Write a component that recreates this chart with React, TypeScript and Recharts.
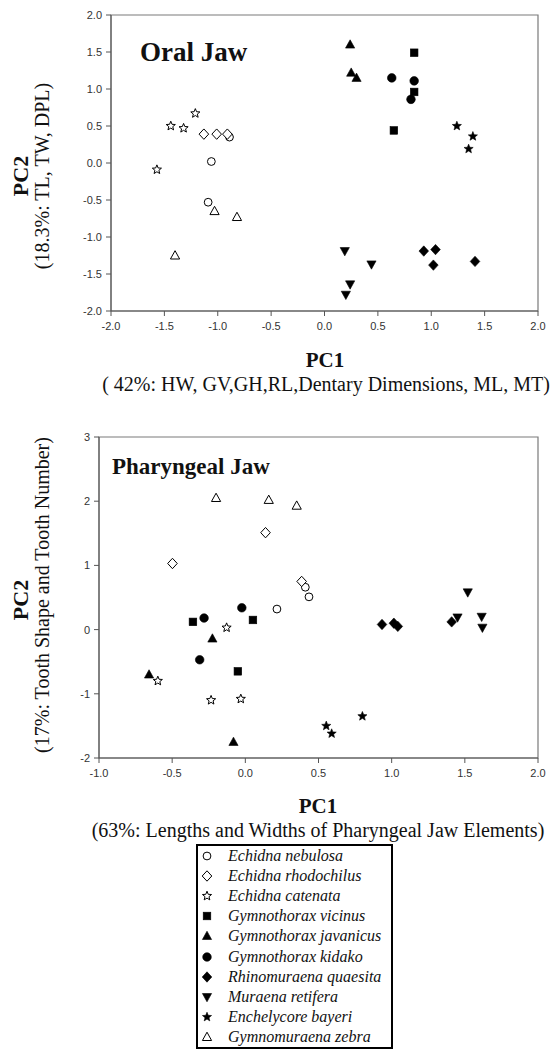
import React from 'react';
import {
  ScatterChart,
  Scatter,
  XAxis,
  YAxis,
  ReferenceArea,
} from 'recharts';

// ---------------------------------------------------------------------------
// Data
// ---------------------------------------------------------------------------

type Pt = { x: number; y: number };
type Kind = 'circle' | 'diamond' | 'star' | 'square' | 'triangle' | 'down';

const species = [
  'Echidna nebulosa',
  'Echidna rhodochilus',
  'Echidna catenata',
  'Gymnothorax vicinus',
  'Gymnothorax javanicus',
  'Gymnothorax kidako',
  'Rhinomuraena quaesita',
  'Muraena retifera',
  'Enchelycore bayeri',
  'Gymnomuraena zebra',
];
const kinds: Kind[] = ['circle', 'diamond', 'star', 'square', 'triangle', 'circle', 'diamond', 'down', 'star', 'triangle'];
const filled = [false, false, false, true, true, true, true, true, true, false];

// Oral jaw
const oralNebulosa: Pt[] = [{ x: -1.06, y: 0.02 }, { x: -1.09, y: -0.53 }, { x: -0.89, y: 0.35 }];
const oralRhodochilus: Pt[] = [{ x: -1.13, y: 0.39 }, { x: -1.01, y: 0.39 }, { x: -0.91, y: 0.39 }];
const oralCatenata: Pt[] = [{ x: -1.21, y: 0.67 }, { x: -1.44, y: 0.5 }, { x: -1.32, y: 0.47 }, { x: -1.57, y: -0.09 }];
const oralVicinus: Pt[] = [{ x: 0.84, y: 1.49 }, { x: 0.84, y: 0.96 }, { x: 0.65, y: 0.44 }];
const oralJavanicus: Pt[] = [{ x: 0.24, y: 1.6 }, { x: 0.25, y: 1.22 }, { x: 0.3, y: 1.15 }];
const oralKidako: Pt[] = [{ x: 0.63, y: 1.15 }, { x: 0.84, y: 1.11 }, { x: 0.81, y: 0.86 }];
const oralQuaesita: Pt[] = [{ x: 0.93, y: -1.19 }, { x: 1.04, y: -1.17 }, { x: 1.02, y: -1.38 }, { x: 1.41, y: -1.33 }];
const oralRetifera: Pt[] = [{ x: 0.19, y: -1.19 }, { x: 0.44, y: -1.37 }, { x: 0.24, y: -1.64 }, { x: 0.2, y: -1.78 }];
const oralBayeri: Pt[] = [{ x: 1.24, y: 0.5 }, { x: 1.39, y: 0.36 }, { x: 1.35, y: 0.19 }];
const oralZebra: Pt[] = [{ x: -1.03, y: -0.65 }, { x: -0.82, y: -0.73 }, { x: -1.4, y: -1.25 }];

// Pharyngeal jaw
const pharNebulosa: Pt[] = [{ x: 0.41, y: 0.66 }, { x: 0.435, y: 0.51 }, { x: 0.216, y: 0.32 }];
const pharRhodochilus: Pt[] = [{ x: 0.385, y: 0.75 }, { x: 0.138, y: 1.51 }, { x: -0.498, y: 1.03 }];
const pharCatenata: Pt[] = [{ x: -0.128, y: 0.03 }, { x: -0.598, y: -0.8 }, { x: -0.234, y: -1.1 }, { x: -0.031, y: -1.08 }];
const pharVicinus: Pt[] = [{ x: -0.358, y: 0.12 }, { x: 0.052, y: 0.15 }, { x: -0.051, y: -0.65 }];
const pharJavanicus: Pt[] = [{ x: -0.225, y: -0.14 }, { x: -0.658, y: -0.7 }, { x: -0.081, y: -1.75 }];
const pharKidako: Pt[] = [{ x: -0.024, y: 0.34 }, { x: -0.282, y: 0.18 }, { x: -0.312, y: -0.47 }];
const pharQuaesita: Pt[] = [{ x: 0.934, y: 0.08 }, { x: 1.015, y: 0.1 }, { x: 1.042, y: 0.05 }, { x: 1.41, y: 0.12 }];
const pharRetifera: Pt[] = [{ x: 1.52, y: 0.58 }, { x: 1.45, y: 0.19 }, { x: 1.615, y: 0.2 }, { x: 1.62, y: 0.03 }];
const pharBayeri: Pt[] = [{ x: 0.553, y: -1.5 }, { x: 0.59, y: -1.62 }, { x: 0.8, y: -1.35 }];
const pharZebra: Pt[] = [{ x: -0.2, y: 2.05 }, { x: 0.16, y: 2.02 }, { x: 0.351, y: 1.93 }];

const oralSeries = [oralNebulosa, oralRhodochilus, oralCatenata, oralVicinus, oralJavanicus, oralKidako, oralQuaesita, oralRetifera, oralBayeri, oralZebra];
const pharSeries = [pharNebulosa, pharRhodochilus, pharCatenata, pharVicinus, pharJavanicus, pharKidako, pharQuaesita, pharRetifera, pharBayeri, pharZebra];

const oralTicks = [-2, -1.5, -1, -0.5, 0, 0.5, 1, 1.5, 2];
const pharXTicks = [-1, -0.5, 0, 0.5, 1, 1.5, 2];
const pharYTicks = [-2, -1, 0, 1, 2, 3];

// ---------------------------------------------------------------------------
// Markers
// ---------------------------------------------------------------------------

function starPath(cx: number, cy: number, ro: number, ri: number) {
  let d = '';
  for (let i = 0; i < 10; i++) {
    const r = i % 2 === 0 ? ro : ri;
    const a = -Math.PI / 2 + (i * Math.PI) / 5;
    d += `${i === 0 ? 'M' : 'L'}${cx + r * Math.cos(a)},${cy + r * Math.sin(a)}`;
  }
  return d + 'Z';
}

function Marker({ cx, cy, kind, solid }: { cx: number; cy: number; kind: Kind; solid: boolean }) {
  const fill = solid ? '#000' : '#fff';
  const common = { fill, stroke: '#000', strokeWidth: solid ? 0.6 : 1 };
  switch (kind) {
    case 'circle':
      return <circle cx={cx} cy={cy} r={solid ? 4.3 : 3.9} {...common} />;
    case 'square':
      return <rect x={cx - 3.8} y={cy - 3.8} width={7.6} height={7.6} {...common} />;
    case 'diamond':
      return <path d={`M${cx},${cy - 5.2}L${cx + 4.8},${cy}L${cx},${cy + 5.2}L${cx - 4.8},${cy}Z`} {...common} />;
    case 'triangle':
      return <path d={`M${cx},${cy - 4.8}L${cx + 4.6},${cy + 3.5}L${cx - 4.6},${cy + 3.5}Z`} {...common} />;
    case 'down':
      return <path d={`M${cx},${cy + 4.8}L${cx + 4.6},${cy - 3.5}L${cx - 4.6},${cy - 3.5}Z`} {...common} />;
    case 'star':
      return <path d={starPath(cx, cy, 4.8, 2.1)} {...common} />;
  }
  return null;
}

const tickStyle = { fontSize: 11, fill: '#333', fontFamily: 'Liberation Sans, Arial, sans-serif' };
const serif = 'Liberation Serif, Times New Roman, serif';

function PcaChart({
  series,
  xDomain,
  yDomain,
  xTicks,
  yTicks,
  yFmt,
  height,
  margin,
}: {
  series: Pt[][];
  xDomain: [number, number];
  yDomain: [number, number];
  xTicks: number[];
  yTicks: number[];
  yFmt: (v: number) => string;
  height: number;
  margin: { top: number; right: number; bottom: number; left: number };
}) {
  return (
    <ScatterChart width={554} height={height} margin={margin}>
      <ReferenceArea
        x1={xDomain[0]}
        x2={xDomain[1]}
        y1={yDomain[0]}
        y2={yDomain[1]}
        fill="none"
        stroke="#7a7a7a"
        strokeWidth={1.2}
        ifOverflow="visible"
      />
      <XAxis
        type="number"
        dataKey="x"
        domain={xDomain}
        ticks={xTicks}
        tickFormatter={(v: number) => v.toFixed(1)}
        tick={tickStyle}
        tickSize={5}
        tickMargin={6}
        height={25}
        stroke="#555"
        allowDataOverflow
      />
      <YAxis
        type="number"
        dataKey="y"
        domain={yDomain}
        ticks={yTicks}
        tickFormatter={yFmt}
        tick={tickStyle}
        tickSize={5}
        tickMargin={4}
        width={40}
        stroke="#555"
        allowDataOverflow
      />
      {series.map((pts, i) => (
        <Scatter
          key={species[i]}
          name={species[i]}
          data={pts}
          isAnimationActive={false}
          shape={(p: any) => <Marker cx={p.cx} cy={p.cy} kind={kinds[i]} solid={filled[i]} />}
        />
      ))}
    </ScatterChart>
  );
}

export default function App() {
  return (
    <div style={{ position: 'absolute', left: 0, top: 0, width: 554, height: 1055, background: '#fff' }}>
      <div style={{ position: 'absolute', left: 0, top: 0 }}>
        <PcaChart
          series={oralSeries}
          xDomain={[-2, 2]}
          yDomain={[-2, 2]}
          xTicks={oralTicks}
          yTicks={oralTicks}
          yFmt={(v) => v.toFixed(1)}
          height={340}
          margin={{ top: 15, right: 16, bottom: 4, left: 71 }}
        />
      </div>
      <div style={{ position: 'absolute', left: 0, top: 400 }}>
        <PcaChart
          series={pharSeries}
          xDomain={[-1, 2]}
          yDomain={[-2, 3]}
          xTicks={pharXTicks}
          yTicks={pharYTicks}
          yFmt={(v) => String(v)}
          height={387}
          margin={{ top: 37, right: 16, bottom: 4, left: 59 }}
        />
      </div>

      <svg width={554} height={1055} style={{ position: 'absolute', left: 0, top: 0, pointerEvents: 'none' }}>
        <g fontFamily={serif} fill="#111">
          <text x={140} y={61} fontSize={27} fontWeight="bold">Oral Jaw</text>
          <text x={112} y={474} fontSize={23} fontWeight="bold">Pharyngeal Jaw</text>

          <text x={325} y={360} fontSize={21} fontWeight="bold" textAnchor="middle" dominantBaseline="central">PC1</text>
          <text x={326} y={384} fontSize={20} textAnchor="middle" dominantBaseline="central">( 42%: HW, GV,GH,RL,Dentary Dimensions, ML, MT)</text>
          <text x={318} y={806} fontSize={21} fontWeight="bold" textAnchor="middle" dominantBaseline="central">PC1</text>
          <text x={318} y={830} fontSize={20} textAnchor="middle" dominantBaseline="central">(63%: Lengths and Widths of Pharyngeal Jaw Elements)</text>

          <text x={20} y={176} fontSize={22} fontWeight="bold" textAnchor="middle" dominantBaseline="central" transform="rotate(-90 20 176)">PC2</text>
          <text x={42} y={176} fontSize={20} textAnchor="middle" dominantBaseline="central" transform="rotate(-90 42 176)">(18.3%: TL, TW, DPL)</text>
          <text x={20} y={600} fontSize={22} fontWeight="bold" textAnchor="middle" dominantBaseline="central" transform="rotate(-90 20 600)">PC2</text>
          <text x={42} y={595} fontSize={20} textAnchor="middle" dominantBaseline="central" transform="rotate(-90 42 595)">(17%: Tooth Shape and Tooth Number)</text>
        </g>
      </svg>

      <div
        style={{
          position: 'absolute',
          left: 196,
          top: 844,
          width: 197,
          height: 205,
          border: '2px solid #000',
          boxSizing: 'border-box',
          paddingTop: 0,
        }}
      >
        {species.map((name, i) => (
          <div key={name} style={{ display: 'flex', alignItems: 'center', height: 20.1 }}>
            <svg width={14} height={14} style={{ marginLeft: 2, flexShrink: 0 }}>
              <Marker cx={7} cy={7} kind={kinds[i]} solid={filled[i]} />
            </svg>
            <span
              style={{
                marginLeft: 14,
                fontFamily: serif,
                fontStyle: 'italic',
                fontSize: 16,
                color: '#111',
                whiteSpace: 'nowrap',
              }}
            >
              {name}
            </span>
          </div>
        ))}
      </div>
    </div>
  );
}
